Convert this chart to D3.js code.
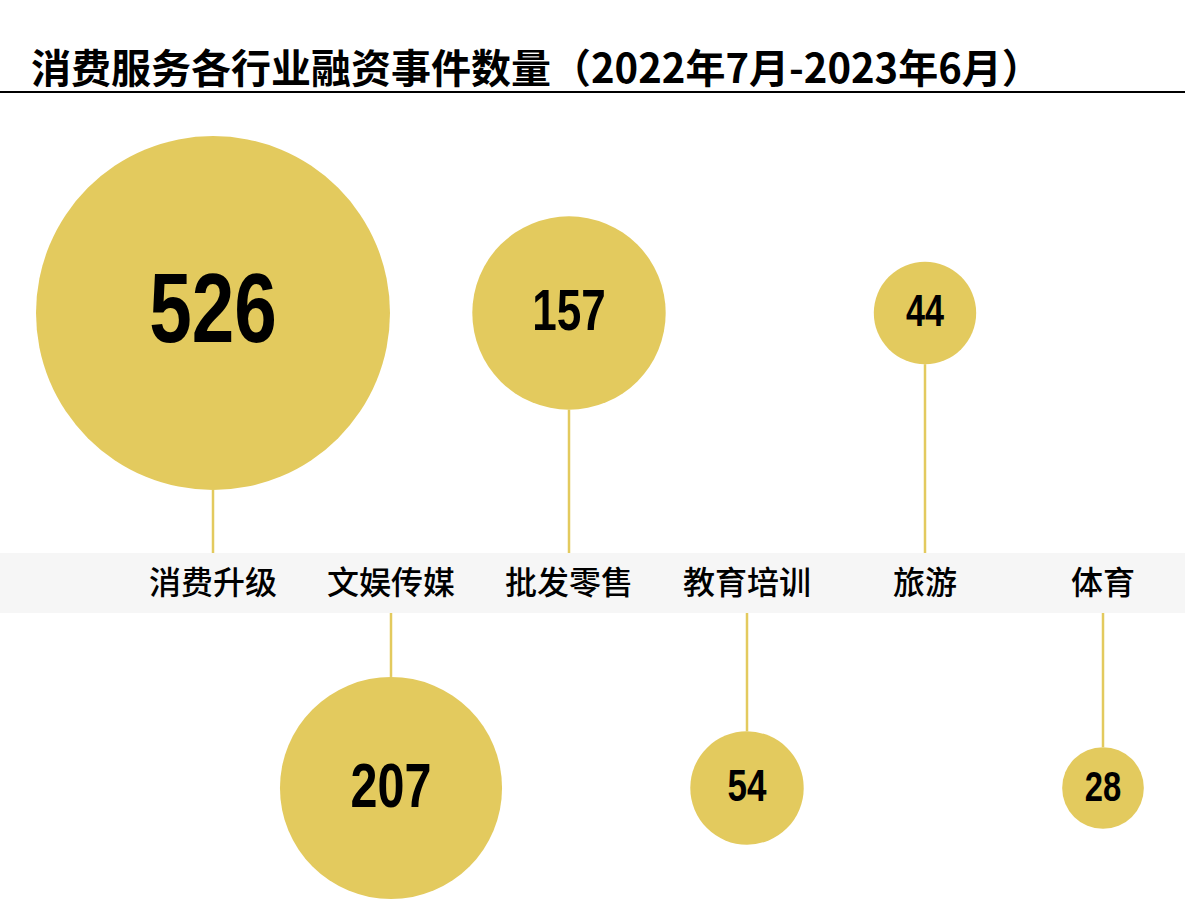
<!DOCTYPE html>
<html lang="zh">
<head>
    <meta charset="UTF-8">
    <title>消费服务各行业融资事件数量</title>
    <style>
        body { margin: 0; background: #fff; }
    </style>
</head>
<body>
    <script src="https://d3js.org/d3.v7.min.js"></script>
    <script>
        // Data
        let categories = ["消费升级", "文娱传媒", "批发零售", "教育培训", "旅游", "体育"];
        let counts = [526, 207, 157, 54, 44, 28];
        let title = "消费服务各行业融资事件数量（2022年7月-2023年6月）";

        let width = 1185, height = 916;
        let gold = "#e3ca5e";
        let cjk = "'Noto Sans CJK SC', 'Noto Sans', sans-serif";
        let numFont = "'Liberation Sans', Arial, sans-serif";

        let data = categories.map(function(c, i) { return {name: c, value: counts[i], up: i % 2 === 0}; });

        let svg = d3.select('body')
            .append('svg')
            .attr('width', width)
            .attr('height', height);

        // Scales
        let x = d3.scalePoint()
            .domain(categories)
            .range([213, 1103]);

        let r = d3.scaleSqrt()
            .domain([0, d3.max(counts)])
            .range([0, 177]);

        let fontSize = d3.scaleLinear()
            .domain([d3.min(counts), d3.max(counts)])
            .range([42, 98]);

        let bandTop = 553, bandBottom = 613;
        let rowY = function(d) { return d.up ? 313 : 788; };

        // Title and rule
        svg.append('text')
            .attr('x', 31)
            .attr('y', 83)
            .attr('font-family', cjk)
            .attr('font-weight', 'bold')
            .attr('font-size', '40px')
            .attr('fill', '#000')
            .text(title);

        svg.append('line')
            .attr('x1', 0).attr('x2', width)
            .attr('y1', 92).attr('y2', 92)
            .attr('stroke', '#000')
            .attr('stroke-width', 2);

        // Gray label band
        svg.append('rect')
            .attr('x', 0)
            .attr('y', bandTop)
            .attr('width', width)
            .attr('height', bandBottom - bandTop)
            .attr('fill', '#f6f6f6');

        // Connector lines
        svg.selectAll('line.stem')
            .data(data)
            .enter()
            .append('line')
            .attr('class', 'stem')
            .attr('x1', function(d) { return x(d.name); })
            .attr('x2', function(d) { return x(d.name); })
            .attr('y1', function(d) { return d.up ? rowY(d) + r(d.value) : bandBottom; })
            .attr('y2', function(d) { return d.up ? bandTop : rowY(d) - r(d.value); })
            .attr('stroke', gold)
            .attr('stroke-width', 2.5);

        // Bubbles
        svg.selectAll('circle')
            .data(data)
            .enter()
            .append('circle')
            .attr('cx', function(d) { return x(d.name); })
            .attr('cy', rowY)
            .attr('r', function(d) { return r(d.value); })
            .attr('fill', gold);

        // Values (narrow bold look: squeeze Liberation Sans horizontally)
        svg.selectAll('text.value')
            .data(data)
            .enter()
            .append('text')
            .attr('class', 'value')
            .attr('transform', function(d) {
                return 'translate(' + x(d.name) + ',' + (rowY(d) + fontSize(d.value) * 0.3) + ') scale(0.78,1)';
            })
            .attr('text-anchor', 'middle')
            .attr('font-family', numFont)
            .attr('font-weight', 'bold')
            .attr('font-size', function(d) { return fontSize(d.value) + 'px'; })
            .attr('fill', '#000')
            .text(function(d) { return d.value; });

        // Category labels
        svg.selectAll('text.label')
            .data(data)
            .enter()
            .append('text')
            .attr('class', 'label')
            .attr('x', function(d) { return x(d.name); })
            .attr('y', (bandTop + bandBottom) / 2)
            .attr('dy', '0.35em')
            .attr('text-anchor', 'middle')
            .attr('font-family', cjk)
            .attr('font-weight', 500)
            .attr('font-size', '32px')
            .attr('fill', '#000')
            .text(function(d) { return d.name; });
    </script>
</body>
</html>
